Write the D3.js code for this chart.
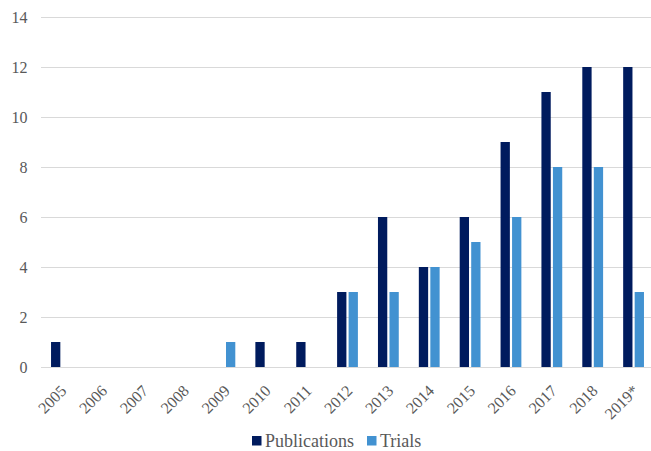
<!DOCTYPE html>
<html lang="en">
<head>
<meta charset="UTF-8">
<title>Publications and Trials</title>
<script src="https://d3js.org/d3.v7.min.js"></script>
<style>
  body { margin: 0; background: #fff; }
</style>
</head>
<body>
<svg width="651" height="451"></svg>
<script>
// chart data
const years = ["2005","2006","2007","2008","2009","2010","2011","2012","2013","2014","2015","2016","2017","2018","2019*"];
const publications = [1,0,0,0,0,1,1,3,6,4,6,9,11,12,12];
const trials = [0,0,0,0,1,0,0,3,3,4,5,6,8,8,3];
const yTicks = [0,2,4,6,8,10,12,14];
const seriesNames = ["Publications", "Trials"];
const colors = ["#001b5e", "#4292d1"];

const font = "'Liberation Serif', 'Times New Roman', serif";
const svg = d3.select("svg")
  .attr("font-family", font)
  .attr("font-size", 16);
const plotLeft = 41, plotRight = 654, plotTop = 17, plotBottom = 367;

const x = d3.scaleBand().domain(years).range([plotLeft, plotRight]);
const y = d3.scaleLinear().domain([0, 14]).range([plotBottom, plotTop]);

// gridlines
svg.append("g").selectAll("line")
  .data(yTicks)
  .enter().append("line")
  .attr("x1", plotLeft).attr("x2", 651)
  .attr("y1", d => y(d) + 0.5).attr("y2", d => y(d) + 0.5)
  .attr("stroke", "#d9d9d9").attr("stroke-width", 1);

// y labels
svg.append("g").selectAll("text")
  .data(yTicks)
  .enter().append("text")
  .attr("x", 27.5).attr("y", d => y(d))
  .attr("dy", "0.35em")
  .attr("text-anchor", "end")
  .attr("fill", "#595959")
  .text(d => d);

// bars
const barW = 9.3, gap = 2.2;
const series = [publications, trials];
series.forEach((vals, si) => {
  svg.append("g").selectAll("rect")
    .data(vals.map((v, i) => ({ year: years[i], v })).filter(d => d.v > 0))
    .enter().append("rect")
    .attr("x", d => x(d.year) + x.bandwidth() / 2 - barW - gap / 2 + si * (barW + gap))
    .attr("y", d => y(d.v))
    .attr("width", barW)
    .attr("height", d => y(0) - y(d.v))
    .attr("fill", colors[si]);
});

// x labels, rotated
svg.append("g").selectAll("text")
  .data(years)
  .enter().append("text")
  .attr("transform", d => `translate(${x(d) + x.bandwidth() / 2 + 2},${plotBottom + 21}) rotate(-45)`)
  .attr("text-anchor", "end")
  .attr("dy", "0.35em")
  .attr("fill", "#595959")
  .text(d => d);

// legend
const legend = svg.append("g").attr("transform", "translate(252,441)");
const legendX = [0, 115];
seriesNames.forEach((name, i) => {
  const g = legend.append("g").attr("transform", `translate(${legendX[i]},0)`);
  g.append("rect").attr("x", 0).attr("y", -5).attr("width", 9.5).attr("height", 9.5).attr("fill", colors[i]);
  g.append("text").attr("x", 13).attr("y", 0).attr("dy", "0.35em")
    .attr("font-size", 18).attr("fill", "#595959").text(name);
});
</script>
</body>
</html>
